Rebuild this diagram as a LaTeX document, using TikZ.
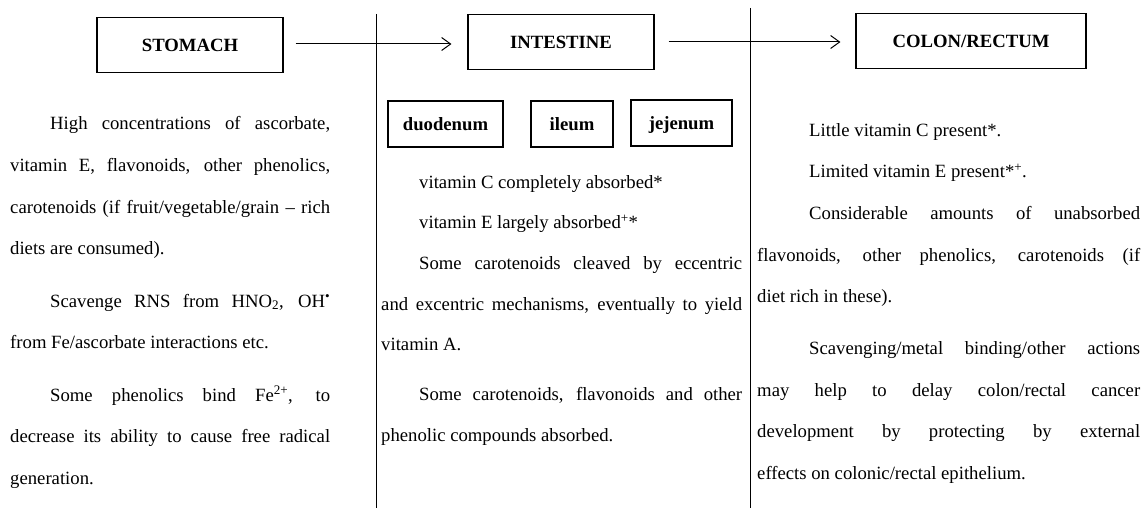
\documentclass[tikz,border=0pt]{standalone}
\usepackage{fontspec}
\setmainfont{Liberation Serif}
\usetikzlibrary{arrows.meta}
\newcommand\bodyfont{\fontsize{18.7}{22}\selectfont}
\newcommand\J[2]{\makebox[#1pt][s]{#2}}
\tikzset{
  txt/.style={anchor=base west, inner sep=0pt, font=\bodyfont},
  headbox/.style={draw, line width=1.1pt, minimum width=#1, minimum height=55pt, inner sep=0pt,
    text height=12.5pt, text depth=0pt, font=\bodyfont\bfseries},
  subbox/.style={draw, line width=1.1pt, minimum width=#1, minimum height=46pt, inner sep=0pt,
    text height=13pt, text depth=0pt, font=\bodyfont\bfseries},
  flow/.style={line width=1pt, -{Straight Barb[length=9pt,width=13pt,line width=1pt]}},
  divider/.style={line width=1pt}
}
\begin{document}
\begin{tikzpicture}[x=1pt,y=-1pt]
\path[use as bounding box, fill=white] (0,0) rectangle (1144,508);

% dividers
\coordinate (v1top) at (376,14);
\coordinate (v1bot) at (376,508);
\coordinate (v2top) at (750,8);
\coordinate (v2bot) at (750,508);
\draw[divider] (v1top) -- (v1bot);
\draw[divider] (v2top) -- (v2bot);

% headings
\node[headbox=186pt] (stomach) at (190,45) {STOMACH};
\node[headbox=186pt] (intestine) at (561,42) {INTESTINE};
\node[headbox=230pt] (colon) at (971,41) {COLON/RECTUM};

\draw[flow, shorten <=12pt, shorten >=16pt] (stomach.east |- 0,44) -- (intestine.west |- 0,44);
\draw[flow, shorten <=14pt, shorten >=15pt] (intestine.east |- 0,42) -- (colon.west |- 0,42);

% sub boxes
\node[subbox=115pt] (duodenum) at (445.5,124) {duodenum};
\node[subbox=82pt] (ileum) at (572,124) {ileum};
\node[subbox=101pt] (jejenum) at (681.5,123) {jejenum};

% left column
\node[txt] (l1) at (50,129.5) {\J{280}{High concentrations of ascorbate,}};
\node[txt] (l2) at (10,171.3) {\J{320}{vitamin E, flavonoids, other phenolics,}};
\node[txt] (l3) at (10,213.1) {\J{320}{carotenoids (if fruit/vegetable/grain -- rich}};
\node[txt] (l4) at (10,254.9) {diets are consumed).};
\node[txt] (l5) at (50,307.1) {\J{280}{Scavenge RNS from HNO\textsubscript{2}, OH\textsuperscript{\textbullet}}};
\node[txt] (l6) at (10,348.9) {from Fe/ascorbate interactions etc.};
\node[txt] (l7) at (50,401.1) {\J{280}{Some phenolics bind Fe\textsuperscript{2+}, to}};
\node[txt] (l8) at (10,442.9) {\J{320}{decrease its ability to cause free radical}};
\node[txt] (l9) at (10,484.7) {generation.};

% middle column
\node[txt] (m1) at (419,188.5) {vitamin C completely absorbed*};
\node[txt] (m2) at (419,229) {vitamin E largely absorbed\textsuperscript{+}*};
\node[txt] (m3) at (419,269.5) {\J{323}{Some carotenoids cleaved by eccentric}};
\node[txt] (m4) at (381,310) {\J{361}{and excentric mechanisms, eventually to yield}};
\node[txt] (m5) at (381,350.5) {vitamin A.};
\node[txt] (m6) at (419,400.5) {\J{323}{Some carotenoids, flavonoids and other}};
\node[txt] (m7) at (381,441) {phenolic compounds absorbed.};

% right column
\node[txt] (r1) at (809,136.5) {Little vitamin C present*.};
\node[txt] (r2) at (809,178) {Limited vitamin E present*\textsuperscript{+}.};
\node[txt] (r3) at (809,219.5) {\J{331}{Considerable amounts of unabsorbed}};
\node[txt] (r4) at (757,261) {\J{383}{flavonoids, other phenolics, carotenoids (if}};
\node[txt] (r5) at (757,302.5) {diet rich in these).};
\node[txt] (r6) at (809,354.5) {\J{331}{Scavenging/metal binding/other actions}};
\node[txt] (r7) at (757,396) {\J{383}{may help to delay colon/rectal cancer}};
\node[txt] (r8) at (757,437.5) {\J{383}{development by protecting by external}};
\node[txt] (r9) at (757,479) {effects on colonic/rectal epithelium.};
\end{tikzpicture}
\end{document}
